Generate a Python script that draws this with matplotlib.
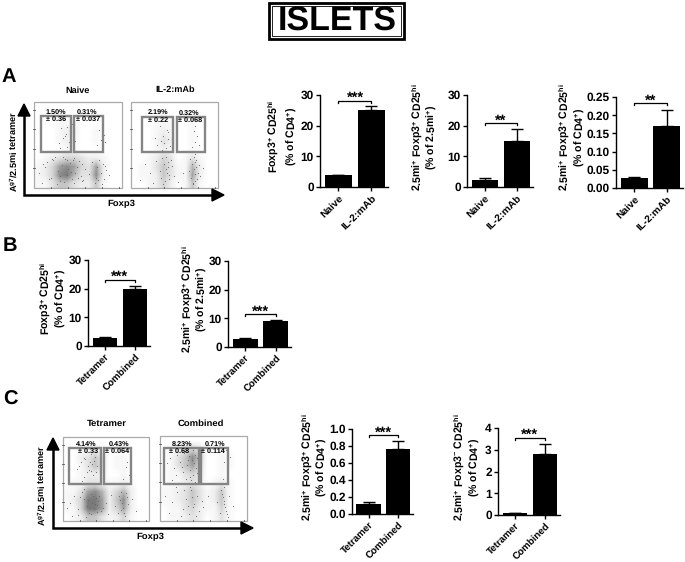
import matplotlib
matplotlib.use("Agg")
import matplotlib.pyplot as plt
from matplotlib.patches import Rectangle, Polygon

plt.rcParams['font.family'] = ['Liberation Sans', 'DejaVu Sans']
plt.rcParams['font.weight'] = 'bold'
plt.rcParams['mathtext.fontset'] = 'custom'
plt.rcParams['mathtext.rm'] = 'Liberation Sans:bold'
plt.rcParams['mathtext.bf'] = 'Liberation Sans:bold'
plt.rcParams['mathtext.default'] = 'bf'
plt.rcParams['text.hinting'] = 'none'

W, H = 685, 562

naive_il2 = ["Naive", "IL-2:mAb"]
tet_comb = ["Tetramer", "Combined"]

a1_vals, a1_err = [3.8, 25.2], [0.2, 1.1]
a2_vals, a2_err = [2.2, 15.0], [0.6, 3.8]
a3_vals, a3_err = [0.027, 0.171], [0.004, 0.044]
b1_vals, b1_err = [2.7, 19.9], [0.3, 1.1]
b2_vals, b2_err = [2.7, 8.9], [0.5, 0.6]
c1_vals, c1_err = [0.12, 0.76], [0.025, 0.10]
c2_vals, c2_err = [0.08, 2.82], [0.03, 0.45]

ticks_30 = [0, 10, 20, 30]
ticks_a3 = [0.00, 0.05, 0.10, 0.15, 0.20, 0.25]
ticks_c1 = [0.0, 0.2, 0.4, 0.6, 0.8, 1.0]
ticks_c2 = [0, 1, 2, 3, 4]

# dot density of the flow plots read by eye, rows top to bottom, 0-9
dens_naive = [
    [0, 0, 0, 0, 0, 0, 0, 0, 0, 0, 0, 0],
    [0, 0, 0, 0, 0, 0, 0, 0, 0, 0, 0, 0],
    [0, 0, 0, 1, 1, 1, 0, 0, 0, 0, 0, 0],
    [0, 0, 0, 1, 2, 2, 0, 0, 1, 0, 0, 0],
    [0, 0, 0, 1, 2, 1, 0, 0, 1, 0, 0, 0],
    [0, 0, 0, 0, 1, 1, 0, 0, 0, 0, 0, 0],
    [0, 1, 2, 3, 4, 4, 3, 2, 2, 1, 0, 0],
    [1, 2, 4, 7, 8, 7, 4, 3, 7, 2, 0, 0],
    [1, 2, 4, 8, 9, 6, 3, 3, 8, 2, 0, 0],
    [1, 1, 3, 5, 5, 3, 2, 2, 5, 1, 0, 0],
]
dens_il2 = [
    [0, 0, 0, 0, 0, 0, 0, 0, 0, 0, 0, 0],
    [0, 0, 0, 0, 1, 0, 0, 0, 0, 0, 0, 0],
    [0, 0, 0, 1, 1, 1, 0, 0, 1, 0, 0, 0],
    [0, 0, 0, 1, 2, 1, 0, 0, 1, 0, 0, 0],
    [0, 0, 0, 1, 3, 2, 0, 0, 1, 0, 0, 0],
    [0, 0, 0, 1, 2, 1, 0, 0, 1, 0, 0, 0],
    [0, 0, 1, 2, 4, 3, 0, 1, 3, 1, 0, 0],
    [0, 1, 1, 3, 5, 3, 1, 1, 6, 2, 0, 0],
    [0, 1, 1, 2, 5, 3, 1, 1, 7, 2, 0, 0],
    [0, 0, 1, 2, 4, 2, 0, 1, 5, 1, 0, 0],
]
dens_tet = [
    [0, 0, 0, 0, 0, 0, 0, 0, 0, 0, 0, 0],
    [0, 0, 1, 1, 2, 1, 0, 0, 0, 0, 0, 0],
    [0, 0, 2, 3, 5, 3, 0, 1, 1, 0, 0, 0],
    [0, 0, 1, 3, 5, 3, 0, 1, 1, 0, 0, 0],
    [0, 0, 1, 2, 2, 2, 0, 0, 1, 0, 0, 0],
    [0, 1, 1, 3, 3, 2, 1, 1, 2, 1, 0, 0],
    [1, 1, 3, 7, 8, 6, 2, 4, 6, 2, 0, 0],
    [1, 2, 4, 9, 9, 7, 2, 5, 8, 2, 0, 0],
    [1, 1, 4, 9, 9, 7, 2, 4, 7, 2, 0, 0],
    [0, 1, 2, 5, 5, 3, 1, 2, 4, 1, 0, 0],
]
dens_comb = [
    [0, 0, 0, 0, 0, 0, 0, 0, 0, 0, 0, 0],
    [0, 1, 1, 3, 4, 3, 0, 0, 1, 0, 0, 0],
    [0, 1, 3, 5, 8, 5, 0, 0, 1, 1, 0, 0],
    [0, 1, 3, 5, 7, 4, 0, 0, 1, 1, 0, 0],
    [0, 1, 1, 3, 4, 3, 0, 0, 1, 0, 0, 0],
    [0, 1, 1, 2, 3, 2, 0, 1, 2, 1, 0, 0],
    [1, 1, 2, 3, 5, 3, 1, 2, 5, 1, 0, 0],
    [1, 1, 2, 3, 5, 3, 1, 2, 5, 1, 0, 0],
    [0, 1, 1, 3, 4, 2, 1, 1, 4, 1, 0, 0],
    [0, 1, 1, 2, 3, 2, 0, 1, 3, 1, 0, 0],
]

# a sample of single dots picked off each flow plot, % of plot width / height
dots_naive_x = [28, 33, 36, 41, 44, 47, 31, 38, 43, 35, 40, 46, 30, 37, 72, 76, 79, 74, 81, 77,
                6, 12, 15, 19, 24, 27, 29, 32, 35, 37, 39, 41, 43, 45, 47, 49, 51, 53, 55, 58,
                62, 66, 70, 72, 74, 76, 78, 80, 82, 85, 9, 17, 22, 26, 30, 34, 38, 42, 46, 50,
                54, 69, 73, 77, 81, 10, 21, 33, 44, 56]
dots_naive_y = [52, 58, 63, 67, 61, 55, 70, 48, 74, 60, 54, 66, 47, 71, 50, 56, 62, 68, 53, 47,
                18, 24, 30, 12, 36, 20, 8, 27, 34, 15, 22, 29, 10, 35, 18, 25, 31, 14, 28, 22,
                16, 30, 12, 25, 33, 18, 28, 10, 21, 15, 6, 10, 32, 5, 14, 7, 33, 19, 6, 12,
                8, 6, 9, 5, 26, 28, 34, 36, 32, 9]
dots_il2_x = [30, 34, 37, 40, 43, 33, 38, 42, 36, 41, 28, 45, 70, 73, 76, 72, 78, 74, 36, 38, 40,
              42, 44, 35, 39, 41, 43, 46, 33, 37, 40, 44, 47, 29, 50, 54, 16, 22, 10, 68, 70,
              72, 74, 76, 71, 73, 75, 77, 69, 72, 74, 78, 67, 79, 71, 75, 73, 60, 83, 25]
dots_il2_y = [50, 55, 60, 47, 65, 72, 52, 57, 44, 68, 58, 49, 48, 54, 60, 66, 50, 72, 35, 28, 22,
              30, 15, 12, 8, 18, 25, 32, 20, 5, 36, 10, 26, 31, 14, 7, 28, 18, 9, 34, 28,
              22, 16, 10, 5, 30, 24, 18, 12, 36, 8, 27, 20, 14, 6, 33, 39, 17, 23, 6]
dots_tet_x = [16, 21, 25, 28, 32, 36, 39, 24, 29, 33, 37, 27, 31, 35, 22, 26, 30, 34, 38, 19, 73,
              77, 70, 75, 8, 13, 17, 22, 25, 28, 30, 32, 34, 36, 38, 40, 42, 44, 27, 29, 31,
              33, 35, 37, 39, 41, 18, 20, 46, 50, 56, 60, 64, 66, 68, 70, 72, 74, 76, 65, 67,
              69, 71, 73, 52, 85, 80, 11, 5, 24]
dots_tet_y = [62, 70, 75, 58, 80, 72, 66, 52, 65, 60, 76, 82, 70, 55, 48, 74, 61, 68, 58, 66, 64,
              55, 50, 70, 22, 30, 14, 34, 26, 18, 10, 32, 22, 14, 27, 19, 30, 12, 5, 25, 16,
              8, 30, 20, 11, 24, 7, 28, 15, 22, 31, 18, 10, 25, 34, 16, 6, 28, 20, 30, 13,
              22, 9, 33, 8, 12, 26, 6, 15, 38]
dots_comb_x = [8, 12, 16, 20, 23, 26, 29, 31, 33, 35, 37, 38, 39, 40, 41, 42, 43, 44, 30, 34, 36,
               38, 40, 28, 32, 25, 18, 14, 46, 74, 78, 72, 81, 76, 6, 14, 20, 26, 30, 33, 36,
               39, 42, 45, 48, 34, 38, 41, 28, 32, 37, 70, 72, 74, 76, 78, 71, 73, 75, 77, 79,
               69, 74, 65, 84, 10, 18, 24, 50, 55]
dots_comb_y = [68, 74, 62, 78, 70, 58, 82, 66, 76, 60, 72, 84, 68, 78, 62, 74, 56, 70, 50, 52, 48,
               54, 46, 80, 72, 64, 54, 48, 80, 70, 60, 50, 75, 84, 30, 22, 34, 14, 26, 8, 36,
               20, 30, 12, 24, 40, 16, 6, 36, 18, 28, 36, 28, 20, 12, 5, 32, 24, 16, 8, 30,
               10, 40, 22, 18, 10, 40, 6, 16, 30]

fig = plt.figure(figsize=(W / 100, H / 100), dpi=100)
over = fig.add_axes([0, 0, 1, 1], zorder=5)
over.set_xlim(0, W)
over.set_ylim(H, 0)
over.axis('off')
over.patch.set_alpha(0)


def bars(box, vals, err, labels, ticks, top, brk, stars, fmt="%d", lab_size=7.4):
    left, right, ytop, ybot = box
    ax = fig.add_axes([left / W, 1 - ybot / H, (right - left) / W, (ybot - ytop) / H])
    ax.bar([0, 1], vals, width=0.82, color='black', yerr=[[0, 0], err],
           error_kw=dict(ecolor='black', elinewidth=1, capsize=4, capthick=1))
    ax.set_xlim(-0.56, 1.5)
    ax.set_ylim(0, top)
    ax.set_xticks([0, 1])
    ax.set_xticklabels(labels, rotation=45, ha='right', rotation_mode='anchor', fontsize=lab_size)
    ax.set_yticks(ticks)
    ax.set_yticklabels([fmt % t for t in ticks], fontsize=8.6)
    ax.tick_params(length=3, width=1, pad=1.5)
    ax.spines['top'].set_visible(False)
    ax.spines['right'].set_visible(False)
    ax.spines['left'].set_linewidth(1)
    ax.spines['bottom'].set_linewidth(1)
    ax.patch.set_alpha(0)
    drop = top * 0.02
    ax.plot([0, 0, 1, 1], [brk - drop, brk, brk, brk - drop], color='black', lw=0.9, clip_on=False)
    ax.annotate(stars, (0.5, brk), xytext=(0, -3), textcoords='offset points',
                ha='center', va='bottom', fontsize=10.5, annotation_clip=False)


def ylab(x1, x2, y, line1, line2):
    over.text(x1, y, line1, rotation=90, ha='center', va='center', fontsize=7.6)
    over.text(x2, y, line2, rotation=90, ha='center', va='center', fontsize=7.6)


def flow(box, dens, dots_x, dots_y, gate1, gate2):
    x0, x1, y0, y1 = box
    over.imshow(dens, extent=(x0, x1, y1, y0), cmap='Greys', vmin=0, vmax=15,
                interpolation='bilinear', aspect='auto', zorder=1)
    px = [x0 + v / 100 * (x1 - x0) for v in dots_x]
    py = [y1 - v / 100 * (y1 - y0) for v in dots_y]
    over.scatter(px, py, s=0.6, color='#666666', linewidths=0, zorder=2)
    over.add_patch(Rectangle((x0, y0), x1 - x0, y1 - y0, fill=False, ec='#aaaaaa', lw=0.9, zorder=2))
    for g in (gate1, gate2):
        over.add_patch(Rectangle((g[0], g[2]), g[1] - g[0], g[3] - g[2], fill=False,
                                 ec='#858585', lw=1.7, zorder=3))
    for i in range(1, 5):
        yy = y1 - (y1 - y0) * i / 4.4
        over.plot([x0 - 1, x0 + 1], [yy, yy], color='#555555', lw=0.6, zorder=3)
    for i in range(1, 6):
        xx = x0 + (x1 - x0) * i / 5.2
        over.plot([xx, xx], [y1 - 1.5, y1], color='#555555', lw=0.6, zorder=3)


def axes_arrows(x, y, top, right):
    over.plot([x, x, right - 10], [top + 10, y, y], color='black', lw=1.8, zorder=4, solid_joinstyle='miter')
    over.add_patch(Polygon([(x, top), (x - 6, top + 12), (x + 6, top + 12)], color='black', zorder=4))
    over.add_patch(Polygon([(right, y), (right - 12, y - 6), (right - 12, y + 6)], color='black', zorder=4))


def small(x, y, s):
    over.text(x, y, s, ha='center', va='center', fontsize=5.2, zorder=6)


# title
over.add_patch(Rectangle((269.5, 2.5), 135, 36, fill=False, ec='black', lw=2))
over.add_patch(Rectangle((272.5, 5.5), 129, 30, fill=False, ec='black', lw=0.6))
over.text(337.5, 21.5, "ISLETS", ha='center', va='center', fontsize=24.5)

# panel letters
over.text(9, 77, "A", ha='center', va='center', fontsize=14.5)
over.text(10, 246, "B", ha='center', va='center', fontsize=14.5)
over.text(10, 400, "C", ha='center', va='center', fontsize=14.5)

# flow plots A
flow((34, 122, 102, 188), dens_naive, dots_naive_x, dots_naive_y, (41, 71, 116, 152), (74, 103, 116, 152))
flow((131, 218, 102, 188), dens_il2, dots_il2_x, dots_il2_y, (142, 173, 117, 152), (177, 205, 117, 152))
axes_arrows(24, 195, 104, 224)
over.text(78, 91, "Naive", ha='center', va='center', fontsize=6.6)
over.text(175, 90, "IL-2:mAb", ha='center', va='center', fontsize=6.6)
over.text(121, 204, "Foxp3", ha='center', va='center', fontsize=6.8)
over.text(13, 151, r"A$^{g7}$/2.5mi tetramer", rotation=90, ha='center', va='center', fontsize=6.6)
small(56, 112, "1.50%")
small(56, 119.5, "± 0.36")
small(87, 112, "0.31%")
small(88, 119.5, "± 0.037")
small(158, 112, "2.19%")
small(158, 120, "± 0.22")
small(189, 113, "0.32%")
small(190, 120, "± 0.068")

# flow plots C
flow((63, 149, 437, 521), dens_tet, dots_tet_x, dots_tet_y, (69, 101, 448, 484), (104, 131, 448, 484))
flow((160, 247, 436, 521), dens_comb, dots_comb_x, dots_comb_y, (164, 199, 448, 484), (201, 228, 448, 484))
axes_arrows(53, 528, 438, 253)
over.text(107, 424, "Tetramer", ha='center', va='center', fontsize=6.8)
over.text(201, 424, "Combined", ha='center', va='center', fontsize=6.8)
over.text(150, 537, "Foxp3", ha='center', va='center', fontsize=6.8)
over.text(41, 485, r"A$^{g7}$/2.5mi tetramer", rotation=90, ha='center', va='center', fontsize=6.6)
small(86, 444, "4.14%")
small(88, 451.5, "± 0.33")
small(119, 444, "0.43%")
small(117, 451.5, "± 0.064")
small(182, 444, "8.23%")
small(179, 451.5, "± 0.68")
small(215, 444, "0.71%")
small(213, 451.5, "± 0.114")

# bar charts
bars((320, 388, 95, 187), a1_vals, a1_err, naive_il2, ticks_30, 30, 28.1, "***")
bars((467, 533, 95, 187), a2_vals, a2_err, naive_il2, ticks_30, 30, 20.8, "**")
bars((616, 683, 97, 188), a3_vals, a3_err, naive_il2, ticks_a3, 0.25, 0.233, "**", "%.2f")
bars((88, 150, 260, 346), b1_vals, b1_err, tet_comb, ticks_30, 30, 23, "***", lab_size=7.0)
bars((228, 291, 261, 347), b2_vals, b2_err, tet_comb, ticks_30, 30, 11.4, "***", lab_size=7.0)
bars((352, 413, 429, 514), c1_vals, c1_err, tet_comb, ticks_c1, 1.0, 0.925, "***", "%.1f", lab_size=7.0)
bars((498, 560, 428, 515), c2_vals, c2_err, tet_comb, ticks_c2, 4, 3.54, "***", lab_size=7.0)

l_foxp = r"Foxp3$^{+}$ CD25$^{hi}$"
l_mi = r"2.5mi$^{+}$ Foxp3$^{+}$ CD25$^{hi}$"
l_mi_neg = r"2.5mi$^{+}$ Foxp3$^{-}$ CD25$^{hi}$"
p_cd4 = r"(% of CD4$^{+}$)"
p_mi = r"(% of 2.5mi$^{+}$)"

ylab(273, 292, 136, l_foxp, p_cd4)
ylab(417, 432, 137, l_mi, p_mi)
ylab(564, 580, 137, l_mi, p_cd4)
ylab(45, 61, 298, l_foxp, p_cd4)
ylab(187, 202, 299, l_mi, p_mi)
ylab(307, 322, 467, l_mi, p_cd4)
ylab(459, 475, 467, l_mi_neg, p_cd4)

fig.savefig("out.png", dpi=100)
